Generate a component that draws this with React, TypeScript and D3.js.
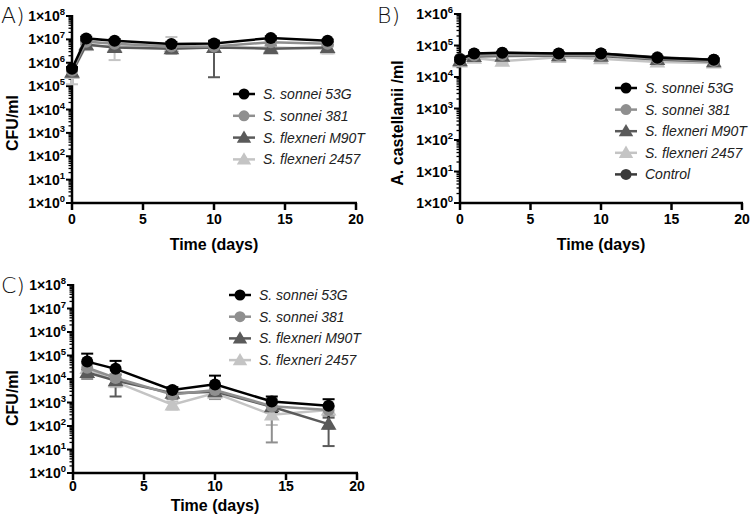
import React from "react";
import * as d3 from "d3";

// ---------- DATA ----------
const daysAB = [0, 1, 3, 7, 10, 14, 18];
const daysC = [1, 3, 7, 10, 14, 18];
const strainNames = ["S. sonnei 53G", "S. sonnei 381", "S. flexneri M90T", "S. flexneri 2457"];
const controlName = "Control";
const xTicks = [0, 5, 10, 15, 20];

// Panel A: CFU/ml of bacteria with amoeba
const A_53G = [5.5e5, 1.1e7, 8.8e6, 6.3e6, 6.7e6, 1.15e7, 8.8e6];
const A_53G_sd = [1e5, 2e6, 1.5e6, 1.5e6, 1.5e6, 2e6, 1e6];
const A_381 = [4.5e5, 8e6, 6.5e6, 5e6, 5e6, 7.5e6, 6.5e6];
const A_381_sd = [1.5e5, 2e6, 2e6, 1.5e6, 1.5e6, 2e6, 1.5e6];
const A_M90T = [4e5, 6e6, 4.5e6, 4e6, 4.5e6, 4e6, 4.5e6];
const A_M90T_sd = [1e5, 2.5e6, 1.5e6, 1.5e6, 4.26e6, 1e6, 1.5e6];
const A_2457 = [3.5e5, 5.5e6, 5e6, 5e6, 4.5e6, 4.5e6, 4e6];
const A_2457_sd = [2.3e5, 2e6, 3.7e6, 7.6e6, 1.5e6, 1e6, 1.5e6];

// Panel B: A. castellanii /ml
const B_53G = [3.6e4, 5.6e4, 5.9e4, 5.6e4, 5.6e4, 4.1e4, 3.5e4];
const B_53G_sd = [3e3, 4e3, 4e3, 4e3, 4e3, 3e3, 3e3];
const B_381 = [3.4e4, 4.8e4, 5e4, 5e4, 5e4, 3.8e4, 3.2e4];
const B_381_sd = [3e3, 4e3, 4e3, 4e3, 4e3, 3e3, 3e3];
const B_M90T = [3.3e4, 4.5e4, 4.6e4, 4.8e4, 4.6e4, 3.6e4, 3.1e4];
const B_M90T_sd = [3e3, 4e3, 4e3, 4e3, 4e3, 3e3, 3e3];
const B_2457 = [3.0e4, 4.0e4, 3.2e4, 4.2e4, 3.8e4, 3.0e4, 2.8e4];
const B_2457_sd = [3e3, 4e3, 4e3, 4e3, 4e3, 3e3, 3e3];
const B_ctrl = [3.8e4, 5.5e4, 5.8e4, 5.5e4, 5.6e4, 4.2e4, 3.5e4];
const B_ctrl_sd = [3e3, 4e3, 4e3, 4e3, 4e3, 3e3, 3e3];

// Panel C: CFU/ml without amoeba
const C_53G = [5.5e4, 2.7e4, 3.4e3, 5.9e3, 1.1e3, 7.3e2];
const C_53G_sd = [6.5e4, 3.2e4, 1.1e3, 8e3, 7e2, 6.5e2];
const C_381 = [3e4, 1.1e4, 2.2e3, 3.4e3, 7e2, 4.8e2];
const C_381_sd = [2e4, 5e3, 8e2, 2e3, 6.8e2, 2e2];
const C_M90T = [1.9e4, 8.5e3, 2.5e3, 2.9e3, 6.6e2, 1.2e2];
const C_M90T_sd = [6e3, 6.7e3, 8e2, 1e3, 3e2, 1.06e2];
const C_2457 = [2.8e4, 7.5e3, 8e2, 2.5e3, 3e2, 4.8e2];
const C_2457_sd = [1.5e4, 3e3, 3e2, 8e2, 1.9e2, 2e2];

// ---------- STYLE ----------
const colors = ["#000000", "#8f8f8f", "#5a5a5a", "#c4c4c4"];
const ctrlColor = "#3a3a3a";
const shapes = ["circle", "circle", "triangle", "triangle"];
const FONT = "'Liberation Sans', Arial, Helvetica, sans-serif";

type Series = { name: string; x: number[]; y: number[]; sd: number[]; color: string; shape: string };

function Marker({ cx, cy, shape, color, r }: { cx: number; cy: number; shape: string; color: string; r: number }) {
  if (shape === "circle") return <circle cx={cx} cy={cy} r={r} fill={color} />;
  const s = r * 1.25;
  const pts = [
    [cx, cy - s * 1.05],
    [cx - s * 1.05, cy + s * 0.75],
    [cx + s * 1.05, cy + s * 0.75],
  ];
  return <polygon points={pts.map((p) => p.join(",")).join(" ")} fill={color} />;
}

function Panel(props: {
  label: string;
  labelX: number;
  labelY: number;
  x0: number;
  x1: number;
  yTop: number;
  yBot: number;
  decades: number;
  series: Series[];
  yTitle: string;
  yTitleX: number;
  yTitleY: number;
  xTitleY: number;
  xLabelDy: number;
  legX: number;
  legY: number;
  legStep: number;
}) {
  const { x0, x1, yTop, yBot, decades } = props;
  const xs = d3.scaleLinear().domain([0, 20]).range([x0, x1]);
  const ys = d3.scaleLog().domain([1, Math.pow(10, decades)]).range([yBot, yTop]);
  const majors = d3.range(0, decades + 1).map((e) => Math.pow(10, e));
  const minors: number[] = [];
  for (let e = 0; e < decades; e++) for (let m = 2; m <= 9; m++) minors.push(m * Math.pow(10, e));
  const line = d3
    .line<[number, number]>()
    .x((d) => xs(d[0]))
    .y((d) => ys(d[1]));
  const minV = 1;
  const drawOrder = [...props.series].reverse();
  return (
    <g>
      <text x={props.labelX} y={props.labelY} fontFamily="'DejaVu Sans', sans-serif" fontSize={22} fontWeight={300} fill="#111">
        {props.label}
      </text>
      {/* y axis */}
      {minors.map((v, i) => (
        <line key={"mi" + i} x1={x0 - 3.5} x2={x0} y1={ys(v)} y2={ys(v)} stroke="#000" strokeWidth={1.3} />
      ))}
      {majors.map((v, i) => (
        <g key={"ma" + i}>
          <line x1={x0 - 6} x2={x0} y1={ys(v)} y2={ys(v)} stroke="#000" strokeWidth={2} />
          <text x={x0 - 7} y={ys(v) + 5} textAnchor="end" fontFamily={FONT} fontWeight="bold" fontSize={14} fill="#000">
            1×10<tspan fontSize={9.5} dy={-6}>{String(i)}</tspan>
          </text>
        </g>
      ))}
      <line x1={x0} x2={x0} y1={yTop - 1} y2={yBot + 1} stroke="#000" strokeWidth={2.5} />
      {/* x axis */}
      <line x1={x0 - 1} x2={x1 + 1} y1={yBot} y2={yBot} stroke="#000" strokeWidth={2.5} />
      {xTicks.map((t) => (
        <g key={"xt" + t}>
          <line x1={xs(t)} x2={xs(t)} y1={yBot} y2={yBot + 7} stroke="#000" strokeWidth={2.5} />
          <text x={xs(t)} y={yBot + props.xLabelDy} textAnchor="middle" fontFamily={FONT} fontWeight="bold" fontSize={14} fill="#000">
            {t}
          </text>
        </g>
      ))}
      <text x={(x0 + x1) / 2} y={props.xTitleY} textAnchor="middle" fontFamily={FONT} fontWeight="bold" fontSize={16} fill="#000">
        Time (days)
      </text>
      <text
        transform={`translate(${props.yTitleX},${props.yTitleY}) rotate(-90)`}
        textAnchor="middle"
        fontFamily={FONT}
        fontWeight="bold"
        fontSize={16}
        fill="#000"
      >
        {props.yTitle}
      </text>
      {/* error bars */}
      {drawOrder.map((s, si) => (
        <g key={"eb" + si}>
          {s.x.map((xv, i) => {
            const up = s.y[i] + s.sd[i];
            const lo = s.y[i] - s.sd[i];
            const cx = xs(xv);
            const yc = ys(s.y[i]);
            const yu = ys(up);
            const yl = lo > minV ? ys(lo) : null;
            return (
              <g key={i} stroke={s.color} strokeWidth={2}>
                <line x1={cx} x2={cx} y1={yc} y2={yu} />
                <line x1={cx - 6} x2={cx + 6} y1={yu} y2={yu} />
                {yl !== null && (
                  <>
                    <line x1={cx} x2={cx} y1={yc} y2={yl} />
                    <line x1={cx - 6} x2={cx + 6} y1={yl} y2={yl} />
                  </>
                )}
              </g>
            );
          })}
        </g>
      ))}
      {/* lines and markers */}
      {drawOrder.map((s, si) => (
        <g key={"ln" + si}>
          <path
            d={line(s.x.map((xv, i) => [xv, s.y[i]] as [number, number])) || ""}
            fill="none"
            stroke={s.color}
            strokeWidth={2.5}
          />
          {s.x.map((xv, i) => (
            <Marker key={i} cx={xs(xv)} cy={ys(s.y[i])} shape={s.shape} color={s.color} r={6} />
          ))}
        </g>
      ))}
      {/* legend */}
      {props.series.map((s, i) => {
        const ly = props.legY + i * props.legStep;
        return (
          <g key={"lg" + i}>
            <line x1={props.legX} x2={props.legX + 22} y1={ly} y2={ly} stroke={s.color} strokeWidth={2.5} />
            <Marker cx={props.legX + 11} cy={ly} shape={s.shape} color={s.color} r={5.5} />
            <text x={props.legX + 30} y={ly + 5} fontFamily={FONT} fontStyle="italic" fontSize={14} fill="#222">
              {s.name}
            </text>
          </g>
        );
      })}
    </g>
  );
}

function mk(names: string[], xs: number[], ys: number[][], sds: number[][]): Series[] {
  return names.map((n, i) => ({ name: n, x: xs, y: ys[i], sd: sds[i], color: colors[i], shape: shapes[i] }));
}

export default function App() {
  const seriesA = mk(strainNames, daysAB, [A_53G, A_381, A_M90T, A_2457], [A_53G_sd, A_381_sd, A_M90T_sd, A_2457_sd]);
  const seriesB = [
    ...mk(strainNames, daysAB, [B_53G, B_381, B_M90T, B_2457], [B_53G_sd, B_381_sd, B_M90T_sd, B_2457_sd]),
    { name: controlName, x: daysAB, y: B_ctrl, sd: B_ctrl_sd, color: ctrlColor, shape: "circle" },
  ];
  const seriesC = mk(strainNames, daysC, [C_53G, C_381, C_M90T, C_2457], [C_53G_sd, C_381_sd, C_M90T_sd, C_2457_sd]);
  return (
    <svg width={750} height={521} style={{ position: "absolute", left: 0, top: 0, background: "#fff" }}>
      <rect width={750} height={521} fill="#fff" />
      <Panel
        label="A)"
        labelX={1}
        labelY={23}
        x0={72}
        x1={356}
        yTop={16}
        yBot={203}
        decades={8}
        series={seriesA}
        yTitle="CFU/ml"
        yTitleX={18}
        yTitleY={123}
        xTitleY={250}
        xLabelDy={21}
        legX={233}
        legY={94}
        legStep={21.8}
      />
      <Panel
        label="B)"
        labelX={377}
        labelY={23}
        x0={460}
        x1={742}
        yTop={14}
        yBot={203}
        decades={6}
        series={seriesB}
        yTitle="A. castellanii /ml"
        yTitleX={403}
        yTitleY={123}
        xTitleY={250}
        xLabelDy={21}
        legX={615}
        legY={88}
        legStep={21.6}
      />
      <Panel
        label="C)"
        labelX={1}
        labelY={293}
        x0={73}
        x1={357}
        yTop={285}
        yBot={473}
        decades={8}
        series={seriesC}
        yTitle="CFU/ml"
        yTitleX={18}
        yTitleY={398}
        xTitleY={511}
        xLabelDy={18}
        legX={229}
        legY={295}
        legStep={21.7}
      />
    </svg>
  );
}
